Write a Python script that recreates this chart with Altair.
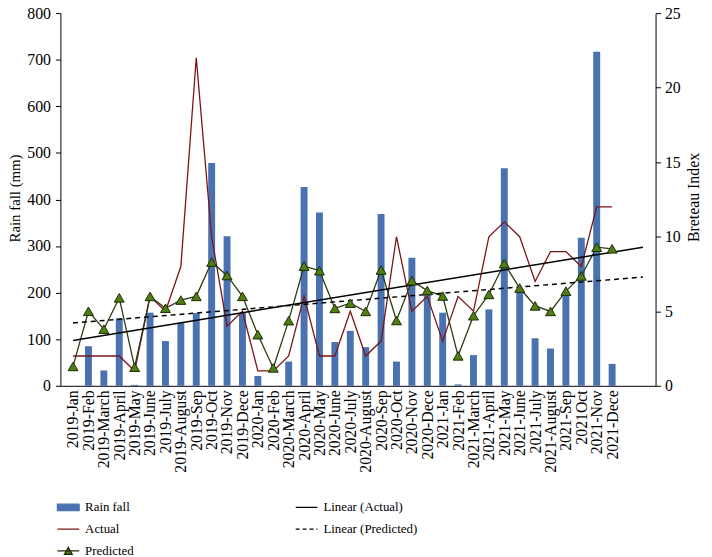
import altair as alt
import pandas as pd

months = ["2019-Jan", "2019-Feb", "2019-March", "2019-April", "2019-May", "2019-June",
          "2019-July", "2019-August", "2019-Sep", "2019-Oct", "2019-Nov", "2019-Dece",
          "2020-Jan", "2020-Feb", "2020-March", "2020-April", "2020-May", "2020-June",
          "2020-July", "2020-August", "2020-Sep", "2020-Oct", "2020-Nov", "2020-Dece",
          "2021-Jan", "2021-Feb", "2021-March", "2021-April", "2021-May", "2021-June",
          "2021-July", "2021-August", "2021-Sep", "2021Oct", "2021-Nov", "2021-Dece"]

rain = [0, 85, 33, 145, 2, 157, 96, 135, 156, 478, 321, 156,
        21, 0, 52, 427, 372, 94, 118, 83, 369, 52, 275, 200,
        157, 3, 66, 164, 467, 205, 102, 80, 194, 318, 717, 47]

actual = [2, 2, 2, 2, 1, 6, 5, 8, 22, 10, 4, 5,
          1, 1, 2, 6, 2, 2, 5, 2, 3, 10, 5, 6,
          3, 6, 5, 10, 11, 10, 7, 9, 9, 8, 12, 12]

predicted = [1.3, 5.0, 3.8, 5.9, 1.25, 6.0, 5.2, 5.75, 6.0, 8.3, 7.4, 6.0,
             3.43, 1.2, 4.37, 8.03, 7.72, 5.19, 5.54, 4.99, 7.77, 4.38, 7.05, 6.39,
             6.02, 2.01, 4.7, 6.13, 8.2, 6.56, 5.36, 4.99, 6.35, 7.37, 9.3, 9.19]

series_order = ["Rain fall", "Actual", "Predicted", "Linear (Actual)", "Linear (Predicted)"]

df = pd.DataFrame({"idx": list(range(len(months))), "month": months,
                   "rain": rain, "actual": actual, "predicted": predicted})
legend_df = pd.DataFrame({"series": series_order})

FONT = "Liberation Serif"
BLUE = "#4A72B0"
RED = "#7A1515"
PLINE = "#2B3A10"
PFILL = "#4F7F12"
PSTROKE = "#1E2A05"

label_expr = "[" + ",".join("'" + m + "'" for m in months) + "][datum.value]"

x_enc = alt.X("idx:Q",
              scale=alt.Scale(domain=[-0.5, 37.5], nice=False, zero=False),
              axis=alt.Axis(values=list(range(len(months))), labelExpr=label_expr,
                            labelAngle=-90, ticks=False, grid=False, title=None,
                            labelFontSize=16, labelPadding=4, labelOverlap=False,
                            domainColor="black"))

right_axis = alt.Axis(orient="right", values=[0, 5, 10, 15, 20, 25], title="Breteau Index",
                      titleAngle=270, titleBaseline="middle", titleX=38, titleY=186,
                      titleFontSize=16, labelFontSize=16, tickSize=5, labelPadding=4,
                      grid=False, domainColor="black", tickColor="black")
y_right_scale = alt.Scale(domain=[0, 25], nice=False, zero=True)

bars = alt.Chart(df).mark_bar(size=7, color=BLUE).encode(
    x=x_enc,
    y=alt.Y("rain:Q", scale=alt.Scale(domain=[0, 800], nice=False),
            axis=alt.Axis(values=list(range(0, 801, 100)), title="Rain fall (mm)",
                          titleBaseline="middle", titleX=-46, titleY=187, titleAngle=270,
                          titleFontSize=15, labelFontSize=16, tickSize=5, labelPadding=5,
                          grid=False, domainColor="black", tickColor="black"))
)

actual_line = alt.Chart(df).mark_line(color=RED, strokeWidth=1.3).encode(
    x=x_enc, y=alt.Y("actual:Q", scale=y_right_scale, axis=right_axis))

pred_line = alt.Chart(df).mark_line(color=PLINE, strokeWidth=1.3).encode(
    x=x_enc, y=alt.Y("predicted:Q", scale=y_right_scale, axis=right_axis))

trend_actual = alt.Chart(df).transform_regression(
    "idx", "actual", extent=[0, 37]).mark_line(color="black", strokeWidth=1.5).encode(
    x=x_enc, y=alt.Y("actual:Q", scale=y_right_scale, axis=right_axis))

trend_pred = alt.Chart(df).transform_regression(
    "idx", "predicted", extent=[0, 37]).mark_line(
    color="black", strokeWidth=1.5, strokeDash=[5, 4]).encode(
    x=x_enc, y=alt.Y("predicted:Q", scale=y_right_scale, axis=right_axis))

pred_pts = alt.Chart(df).mark_point(shape="triangle-up", size=100, filled=True,
                                    fill=PFILL, stroke=PSTROKE, strokeWidth=1,
                                    opacity=1).encode(
    x=x_enc, y=alt.Y("predicted:Q", scale=y_right_scale, axis=right_axis))

leg = alt.Legend(title=None, orient="none", legendX=-4, legendY=488, columns=2,
                 direction="vertical",
                 columnPadding=160, rowPadding=3, padding=0, symbolSize=484,
                 symbolStrokeWidth=1.3, labelFont=FONT, labelFontSize=13,
                 labelOffset=5, labelColor="black")

legend_layer = alt.Chart(legend_df).transform_filter("false").mark_point(
    filled=True, opacity=1).encode(
    fill=alt.Fill("series:N", scale=alt.Scale(
        domain=series_order,
        range=[BLUE, "transparent", PFILL, "transparent", "transparent"]), legend=leg),
    stroke=alt.Stroke("series:N", scale=alt.Scale(
        domain=series_order,
        range=[BLUE, RED, PSTROKE, "black", "black"]), legend=leg),
    shape=alt.Shape("series:N", scale=alt.Scale(
        domain=series_order,
        range=["M-1,-0.3H1V0.3H-1Z", "stroke",
               "M-1,0H1M-0.36,0.32L0,-0.32L0.36,0.32Z", "stroke", "stroke"]), legend=leg),
    strokeDash=alt.StrokeDash("series:N", scale=alt.Scale(
        domain=series_order,
        range=[[1, 0], [1, 0], [1, 0], [1, 0], [4, 3]]), legend=leg),
)

right_layers = alt.layer(actual_line, pred_line, trend_actual, trend_pred, pred_pts,
                         legend_layer)

chart = alt.layer(bars, right_layers).resolve_scale(y="independent").properties(
    width=602, height=377,
    padding={"left": 53, "top": 2, "right": 49, "bottom": 170},
    autosize=alt.AutoSizeParams(type="none"),
).configure(font=FONT).configure_view(stroke=None).configure_axis(
    labelFont=FONT, titleFont=FONT, titleFontWeight="normal", labelColor="black",
    titleColor="black"
).configure_legend(labelFont=FONT, labelFontSize=13)

chart.save("out.html", embed_options={"renderer": "svg", "actions": False})
